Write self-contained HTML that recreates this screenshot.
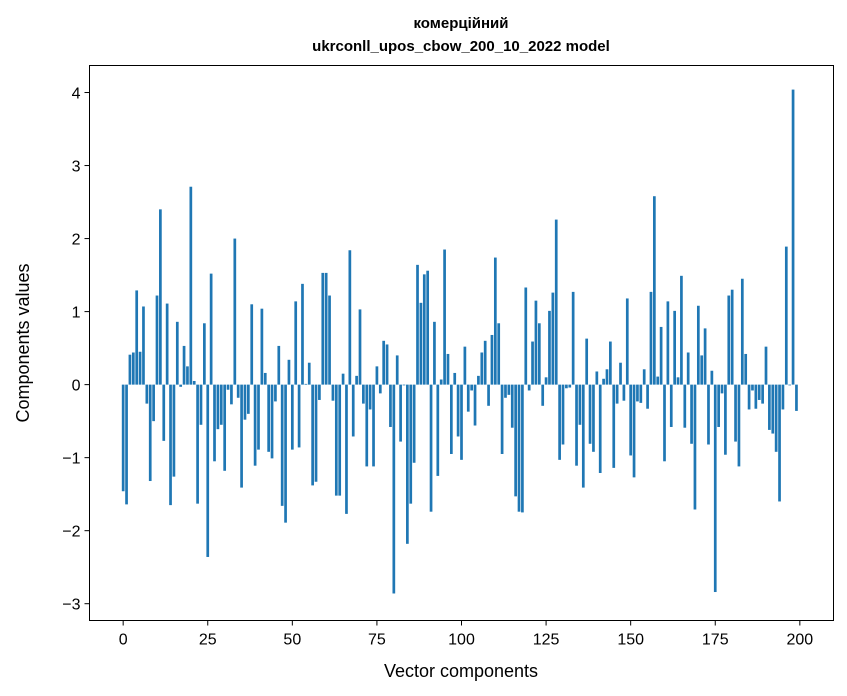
<!DOCTYPE html>
<html><head><meta charset="utf-8"><style>
body{margin:0;background:#fff;}
svg{display:block;font-family:"Liberation Sans","DejaVu Sans",sans-serif;}
</style></head><body>
<svg id="chart" width="847" height="696">
<rect width="847" height="696" fill="#fff"/>
<text x="461" y="28" text-anchor="middle" font-size="15" font-weight="bold">комерційний</text>
<text x="461" y="51" text-anchor="middle" font-size="15" font-weight="bold">ukrconll_upos_cbow_200_10_2022 model</text>
<g id="bars"></g>
<g id="xticks"></g>
<g id="yticks"></g>
<rect x="89.5" y="65.5" width="744" height="555" fill="none" stroke="#000" stroke-width="1"/>
<text x="461" y="677" text-anchor="middle" font-size="18">Vector components</text>
<text transform="translate(29,343) rotate(-90)" text-anchor="middle" font-size="18">Components values</text>
</svg>
<script>
const values = [-1.46,-1.64,0.41,0.44,1.29,0.45,1.07,-0.26,-1.32,-0.5,1.22,2.4,-0.77,1.11,-1.65,-1.26,0.86,-0.03,0.53,0.25,
2.71,0.05,-1.63,-0.55,0.84,-2.36,1.52,-1.05,-0.61,-0.55,-1.18,-0.07,-0.27,2.0,-0.18,-1.41,-0.48,-0.4,1.1,-1.11,
-0.89,1.04,0.16,-0.92,-1.01,-0.23,0.53,-1.66,-1.89,0.34,-0.89,1.14,-0.86,1.38,0.01,0.3,-1.38,-1.33,-0.21,1.53,
1.53,1.22,-0.22,-1.52,-1.52,0.15,-1.77,1.84,-0.71,0.12,1.03,-0.26,-1.12,-0.34,-1.12,0.25,-0.12,0.6,0.55,-0.58,
-2.86,0.4,-0.78,-0.01,-2.18,-1.63,-1.07,1.64,1.12,1.51,1.56,-1.74,0.86,-1.25,0.07,1.85,0.42,-0.95,0.16,-0.71,
-1.03,0.52,-0.37,-0.08,-0.56,0.12,0.44,0.6,-0.29,0.68,1.74,0.84,-0.95,-0.18,-0.14,-0.59,-1.53,-1.74,-1.75,1.33,
-0.08,0.59,1.15,0.84,-0.29,0.1,1.01,1.26,2.26,-1.03,-0.82,-0.05,-0.04,1.27,-1.11,-0.55,-1.41,0.63,-0.81,-0.92,
0.18,-1.21,0.08,0.21,0.59,-1.14,-0.26,0.3,-0.22,1.18,-0.97,-1.27,-0.23,-0.25,0.21,-0.33,1.27,2.58,0.11,0.79,
-1.05,1.14,-0.58,1.01,0.1,1.49,-0.59,0.44,-0.81,-1.71,1.08,0.4,0.77,-0.82,0.19,-2.84,-0.58,-0.12,-0.96,1.22,
1.3,-0.78,-1.12,1.45,0.42,-0.34,-0.08,-0.33,-0.21,-0.26,0.52,-0.62,-0.67,-0.92,-1.6,-0.34,1.89,-0.01,4.04,-0.36];
const xTicks = [0,25,50,75,100,125,150,175,200];
const yTicks = [-3,-2,-1,0,1,2,3,4];

const L=89.5,R=833.5,T=65.5,B=620.5;
const xMin=-9.95,xMax=209.95,yMin=-3.23,yMax=4.37;
function xs(v){return L+(v-xMin)/(xMax-xMin)*(R-L);}
function ys(v){return B-(v-yMin)/(yMax-yMin)*(B-T);}
const NS="http://www.w3.org/2000/svg";
const bars=document.getElementById('bars');
const bw=(xs(0.8)-xs(0));
values.forEach((v,i)=>{
  const r=document.createElementNS(NS,'rect');
  const y0=ys(0),y1=ys(v);
  r.setAttribute('x',xs(i)-bw/2);
  r.setAttribute('width',bw);
  r.setAttribute('y',Math.min(y0,y1));
  r.setAttribute('height',Math.abs(y1-y0));
  r.setAttribute('fill','#1f77b4');
  
  
  bars.appendChild(r);
});
const xg=document.getElementById('xticks');
xTicks.forEach(t=>{
  const l=document.createElementNS(NS,'line');
  l.setAttribute('x1',xs(t));l.setAttribute('x2',xs(t));
  l.setAttribute('y1',B);l.setAttribute('y2',B+5);
  l.setAttribute('stroke','#000');
  
  
  xg.appendChild(l);
  const tx=document.createElementNS(NS,'text');
  tx.setAttribute('x',xs(t));tx.setAttribute('y',B+24);
  tx.setAttribute('text-anchor','middle');tx.setAttribute('font-size','16');
  tx.textContent=t;
  
  
  xg.appendChild(tx);
});
const yg=document.getElementById('yticks');
yTicks.forEach(t=>{
  const l=document.createElementNS(NS,'line');
  l.setAttribute('x1',L-5);l.setAttribute('x2',L);
  l.setAttribute('y1',ys(t));l.setAttribute('y2',ys(t));
  l.setAttribute('stroke','#000');
  
  
  yg.appendChild(l);
  const tx=document.createElementNS(NS,'text');
  tx.setAttribute('x',L-9);tx.setAttribute('y',ys(t)+6);
  tx.setAttribute('text-anchor','end');tx.setAttribute('font-size','16');
  tx.textContent=t<0?'\u2212'+Math.abs(t):t;
  
  
  yg.appendChild(tx);
});
</script>
</body></html>
